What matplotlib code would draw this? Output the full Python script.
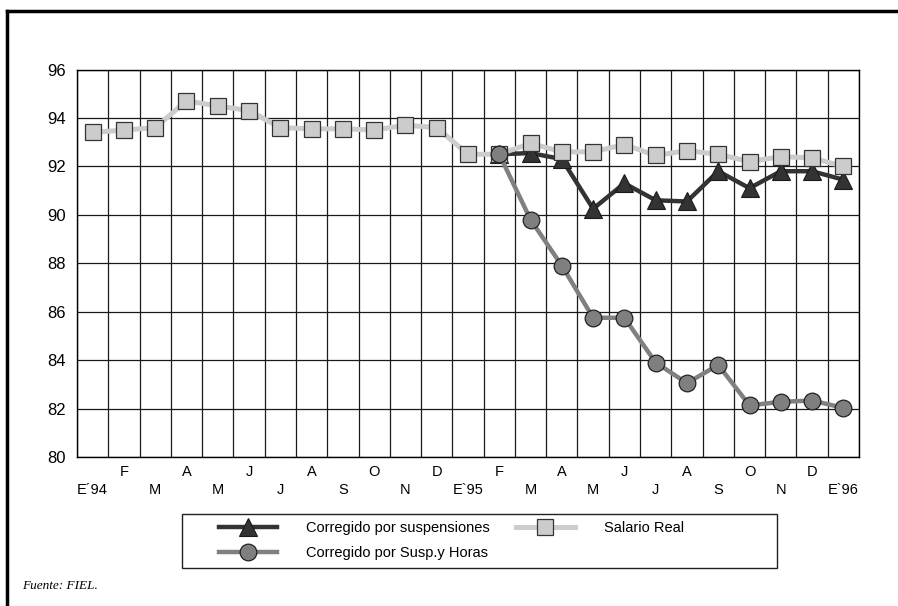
import matplotlib
matplotlib.use("Agg")
import matplotlib.pyplot as plt
import numpy as np
from matplotlib.lines import Line2D
from matplotlib.patches import Rectangle

plt.rcParams['font.family'] = ['Liberation Sans', 'DejaVu Sans']

months = ['E´94', 'F', 'M', 'A', 'M', 'J', 'J', 'A', 'S', 'O', 'N', 'D',
          'E`95', 'F', 'M', 'A', 'M', 'J', 'J', 'A', 'S', 'O', 'N', 'D', 'E`96']

salario_real = [93.4, 93.5, 93.6, 94.7, 94.5, 94.3, 93.6, 93.55, 93.55, 93.5, 93.7, 93.6,
                92.5, 92.5, 92.95, 92.6, 92.6, 92.9, 92.45, 92.65, 92.5, 92.2, 92.4, 92.35, 92.0]

# series starting at F'95 (index 13)
start_idx = 13
corr_suspensiones = [92.5, 92.55, 92.3, 90.25, 91.3, 90.6, 90.55, 91.8, 91.1, 91.8, 91.8, 91.45]
corr_susp_horas = [92.5, 89.8, 87.9, 85.75, 85.75, 83.9, 83.05, 83.8, 82.13, 82.28, 82.33, 82.03]

W, H = 898, 606
fig = plt.figure(figsize=(W / 100, H / 100), dpi=100)
ax = fig.add_axes([77 / W, 1 - 457 / H, (859 - 77) / W, (457 - 69.5) / H])

x_all = np.arange(len(months))
x_late = np.arange(start_idx, start_idx + len(corr_suspensiones))

# grid
for b in np.arange(-0.5, len(months), 1.0):
    ax.axvline(b, color='#1a1a1a', lw=0.9, zorder=0.5)
for yv in range(80, 97, 2):
    ax.axhline(yv, color='#1a1a1a', lw=0.9, zorder=0.5)

l_tri, = ax.plot(x_late, corr_suspensiones, color='#333333', lw=3.2, marker='^',
                 ms=13, mfc='#333333', mec='#1a1a1a', mew=0.8, zorder=3,
                 label='Corregido por suspensiones')
l_sq, = ax.plot(x_all, salario_real, color='#cccccc', lw=3.6, marker='s',
                ms=11.5, mfc='#cccccc', mec='#333333', mew=0.9, zorder=4,
                label='Salario Real')
l_circ, = ax.plot(x_late, corr_susp_horas, color='#808080', lw=3.2, marker='o',
                  ms=12, mfc='#7f7f7f', mec='#222222', mew=0.9, zorder=5,
                  label='Corregido por Susp.y Horas')

ax.set_xlim(-0.5, len(months) - 0.5)
ax.set_ylim(80, 96)
ax.set_yticks(range(80, 97, 2))
ax.tick_params(axis='y', length=0, pad=8, labelsize=12)

even = x_all[::2]
odd = x_all[1::2]
ax.set_xticks(even, [months[i] for i in even])
ax.set_xticks(odd, [months[i] for i in odd], minor=True)
ax.tick_params(axis='x', which='major', length=0, pad=18.5, labelsize=10.5)
ax.tick_params(axis='x', which='minor', length=0, pad=6, labelsize=10.5)

for s in ax.spines.values():
    s.set_color('#000000')
    s.set_linewidth(1.0)

# legend frame
fig.patches.append(Rectangle((182 / W, 1 - 568 / H), (777 - 182) / W, (568 - 514) / H,
                             transform=fig.transFigure, fill=False, ec='#222222', lw=1.0))
fig.legend(handles=[l_tri, l_circ, l_sq], ncol=2, frameon=False,
           loc='upper left', bbox_to_anchor=(207 / W, 1 - 509 / H),
           fontsize=10.5, handlelength=4.0, handletextpad=2.0, columnspacing=1.8,
           labelspacing=0.75, borderpad=0.3)

# outer frame (cropped)
fig.add_artist(Line2D([7 / W, 1], [1 - 11 / H, 1 - 11 / H], transform=fig.transFigure,
                      color='#000000', lw=2.5))
fig.add_artist(Line2D([7 / W, 7 / W], [0, 1 - 11 / H], transform=fig.transFigure,
                      color='#000000', lw=2.5))

fig.text(22 / W, 1 - 586 / H, 'Fuente: FIEL.', family=['Liberation Serif', 'DejaVu Serif'],
         style='italic', fontsize=9.5, va='center', ha='left')

fig.savefig('out.png', dpi=100)
